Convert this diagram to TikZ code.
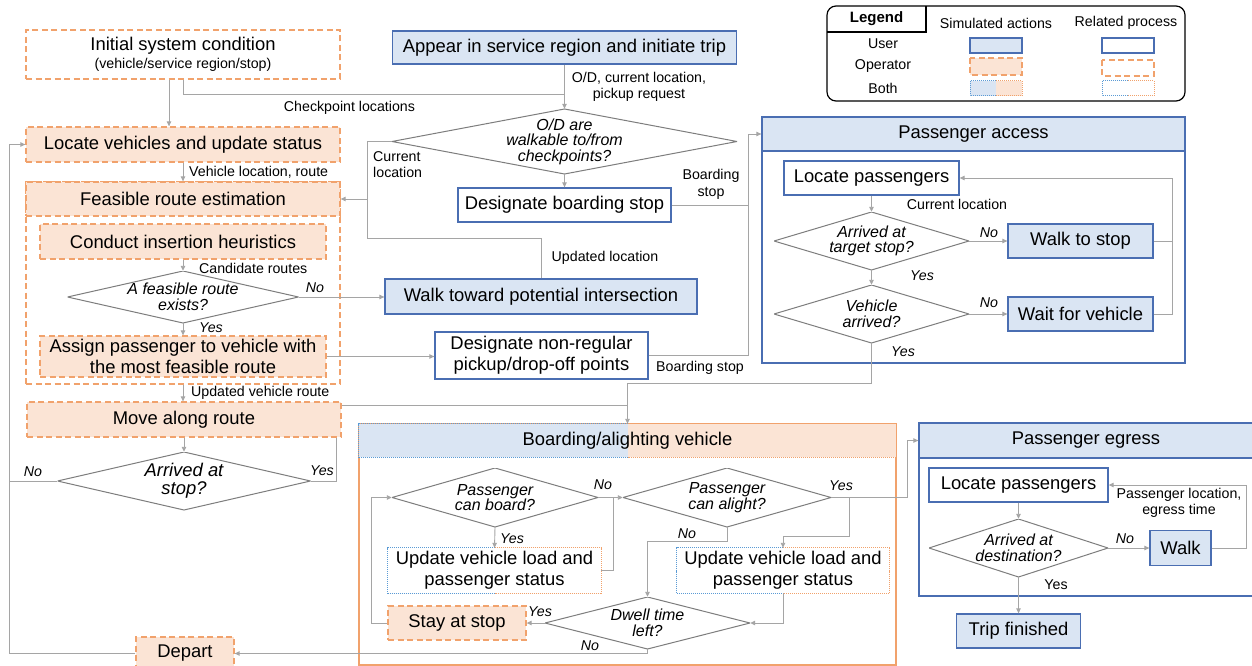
\documentclass[tikz,border=0pt]{standalone}
\usepackage{fontspec}
\setmainfont{Liberation Sans}
\usetikzlibrary{arrows.meta}

\definecolor{usrfill}{RGB}{218,229,243}
\definecolor{usrline}{RGB}{74,110,178}
\definecolor{opfill}{RGB}{251,228,213}
\definecolor{opline}{RGB}{241,162,108}
\definecolor{bothline}{RGB}{91,155,213}
\definecolor{conn}{RGB}{165,165,165}
\definecolor{decline}{RGB}{125,125,125}

\newcommand{\mainf}{\fontsize{18.4}{21}\selectfont}
\newcommand{\labf}{\fontsize{14.2}{16.5}\selectfont}
\newcommand{\decf}{\fontsize{16}{15.5}\selectfont\itshape}
\newcommand{\decbig}{\fontsize{18.4}{18}\selectfont\itshape}

\tikzset{
  usr/.style={draw=usrline, fill=usrfill, line width=1.3pt, inner sep=0pt, align=center, font=\mainf},
  usrrel/.style={usr, fill=white},
  oper/.style={draw=opline, fill=opfill, dash pattern=on 6pt off 3.5pt, line width=1.3pt, inner sep=0pt, align=center, font=\mainf},
  operrel/.style={oper, fill=white},
  dec/.style={fill=white, inner sep=0pt, align=center, font=\decf,
    path picture={\draw[decline, line width=1pt] (path picture bounding box.west) -- (path picture bounding box.north)
      -- (path picture bounding box.east) -- (path picture bounding box.south) -- cycle;}},
  bothfill/.style={fill=white, inner sep=0pt, align=center, font=\mainf,
    path picture={\fill[usrfill] (path picture bounding box.south west) rectangle (path picture bounding box.north);
      \fill[opfill] (path picture bounding box.south) rectangle (path picture bounding box.north east);}},
  bothrel/.style={fill=white, inner sep=0pt, align=center, font=\mainf},
  bdot/.style={draw=bothline, line width=1pt, dash pattern=on 1pt off 1pt},
  odot/.style={draw=opline, line width=1pt, dash pattern=on 1pt off 1pt},
  lab/.style={inner sep=0pt, font=\labf, align=center},
  yn/.style={inner sep=0pt, font=\labf\itshape},
  arr/.style={draw=conn, line width=0.9pt, -{Triangle[length=5pt,width=4.5pt]}},
  ln/.style={draw=conn, line width=0.9pt},
}

% dotted frame, user half left and operator half right
\newcommand{\splitframe}[1]{%
  \draw[bdot] (#1.north) -| (#1.west) |- (#1.south);
  \draw[odot] (#1.north) -| (#1.east) |- (#1.south);}

\begin{document}
\begin{tikzpicture}[x=1pt,y=-1pt]
\useasboundingbox (0,0) rectangle (1252,666);
%legend
\draw[line width=1.2pt, rounded corners=9pt] (827,6) rectangle (1185,101);
\draw[line width=1.2pt] (827,32) -| (926,6);
\node[inner sep=0pt, font=\fontsize{15}{18}\selectfont\bfseries] (lgd) at (876.5,19) {Legend};
\node[lab] (lsim) at (996,23) {Simulated actions};
\node[lab] (lrel) at (1126,23) {Related process};
\node[lab] (luser) at (883,44) {User};
\node[lab] (loper) at (883,66) {Operator};
\node[lab] (lboth) at (883,88) {Both};
\draw[usr] (970,38) rectangle (1022,53);
\draw[oper] (970,58) rectangle (1022,75);
\fill[usrfill] (970,81) rectangle (996,96);
\fill[opfill] (996,81) rectangle (1022,96);
\draw[bdot] (996,81) -| (970,96) -- (996,96);
\draw[odot] (996,81) -| (1022,96) -- (996,96);
\draw[usrrel] (1102,38) rectangle (1154,53);
\draw[operrel] (1102,60) rectangle (1154,76);
\draw[bdot] (1128,81) -| (1102,96) -- (1128,96);
\draw[odot] (1128,81) -| (1154,96) -- (1128,96);

%operator
\node[operrel, minimum width=314, minimum height=49] (init) at (183,54.5) {Initial system condition\\[-3pt]{\labf (vehicle/service region/stop)}};
\node[oper, minimum width=314, minimum height=35] (locv) at (183,144.5) {Locate vehicles and update status};
\node[operrel, minimum width=314, minimum height=202] (frb) at (183,283) {};
\node[oper, minimum width=314, minimum height=34] (fre) at (183,199) {Feasible route estimation};
\node[oper, minimum width=286, minimum height=35] (cih) at (183,241.5) {Conduct insertion heuristics};
\node[dec, minimum width=231, minimum height=52] (frx) at (183,297) {A feasible route\\exists?};
\node[oper, minimum width=286, minimum height=41] (asg) at (183,356.5) {Assign passenger to vehicle with\\the most feasible route};
\node[oper, minimum width=314, minimum height=35] (move) at (184,419.5) {Move along route};
\node[dec, minimum width=253, minimum height=58, font=\decbig] (arrs) at (184,481) {Arrived at\\stop?};
\node[oper, minimum width=98, minimum height=33] (dep) at (185,653.5) {Depart};

%user
\node[usr, minimum width=344, minimum height=33] (app) at (564.5,47.5) {Appear in service region and initiate trip};
\node[dec, minimum width=345, minimum height=65] (odw) at (564.5,141.5) {O/D are\\walkable to/from\\checkpoints?};
\node[usrrel, minimum width=213, minimum height=34] (dbs) at (564.5,205) {Designate boarding stop};
\node[usr, minimum width=312, minimum height=35] (wtp) at (541,296.5) {Walk toward potential intersection};
\node[usrrel, minimum width=213, minimum height=47] (dnr) at (541.5,355.5) {Designate non-regular\\pickup/drop-off points};

%passenger access
\node[usrrel, minimum width=423, minimum height=246] (pab) at (973.5,240) {};
\node[usr, minimum width=423, minimum height=34] (pat) at (973.5,134) {Passenger access};
\node[usrrel, minimum width=175, minimum height=34] (lpa) at (871.5,178) {Locate passengers};
\node[dec, minimum width=195, minimum height=58] (ats) at (871.5,241) {Arrived at\\target stop?};
\node[usr, minimum width=145, minimum height=34] (wts) at (1080.5,241) {Walk to stop};
\node[dec, minimum width=195, minimum height=58] (vea) at (871.5,314) {Vehicle\\arrived?};
\node[usr, minimum width=145, minimum height=34] (wfv) at (1080.5,314) {Wait for vehicle};

%boarding/alighting
\node[draw=opline, line width=1.3pt, fill=white, minimum width=537, minimum height=241] (bab) at (627.5,544.5) {};
\node[bothfill, minimum width=537, minimum height=33] (bat) at (627.5,440.5) {Boarding/alighting vehicle};
\splitframe{bat}
\node[dec, minimum width=206, minimum height=59] (cbd) at (495,497.5) {Passenger\\can board?};
\node[bothrel, minimum width=213, minimum height=45] (upb) at (494.5,570.5) {Update vehicle load and\\passenger status};
\splitframe{upb}
\node[oper, minimum width=138, minimum height=34] (stay) at (457,623) {Stay at stop};
\node[dec, minimum width=208, minimum height=59] (cal) at (727,497.5) {Passenger\\can alight?};
\node[bothrel, minimum width=212, minimum height=45] (upa) at (783,570.5) {Update vehicle load and\\passenger status};
\splitframe{upa}
\node[dec, minimum width=205, minimum height=52] (dwl) at (647.5,623) {Dwell time\\left?};

%passenger egress
\node[usrrel, minimum width=334, minimum height=173] (peb) at (1086,509.5) {};
\node[usr, minimum width=334, minimum height=35] (pet) at (1086,440.5) {Passenger egress};
\node[usrrel, minimum width=179, minimum height=34] (lpe) at (1018.5,485) {Locate passengers};
\node[dec, minimum width=179, minimum height=58] (adst) at (1018.5,548) {Arrived at\\destination?};
\node[usr, minimum width=61, minimum height=35] (wlk) at (1180.5,548) {Walk};
\node[usr, minimum width=124, minimum height=34] (trip) at (1018.5,631) {Trip finished};

%connectors, operator
\coordinate (cp) at (564.5,94);
\coordinate (lt) at (9,144.5);
\coordinate (lp) at (9,481);
\coordinate (ys) at (336,481);
\coordinate (mj) at (627.5,405);
\draw[arr] ([xshift=-14pt]init.south) -- ([xshift=-14pt]locv.north);
\draw[ln] (init.south) |- (cp);
\draw[arr] (app.south) -- (odw.north);
\draw[arr] (locv.south) -- (fre.north);
\draw[arr] (cih.south) -- (frx.north);
\draw[arr] (frx.south) -- (asg.north);
\draw[arr] (frb.south) -- (frb.south |- move.north);
\draw[arr] (move.south) -- (arrs.north);
\draw[arr] (frx.east) -- (frx.east -| wtp.west);
\draw[arr] (asg.east) -- (asg.east -| dnr.west);
\draw[ln] (arrs.west) -- (lp);
\draw[arr] (dep.west) -| (lt) -- (locv.west);
\draw[ln] (arrs.east) -- (ys) -- (ys |- move.south);
\draw[arr] ([yshift=14.5pt]move.east) -- (mj) -- (bat.north);
%connectors, user
\coordinate (cl) at (367,199);
\coordinate (ul) at (367,238);
\coordinate (bt) at (748,134);
\coordinate (bj) at (748,205);
\draw[arr] (odw.south) -- (dbs.north);
\draw[ln] (odw.west) -| (ul) -| (wtp.north);
\draw[arr] (cl) -- (fre.east);
\draw[arr] (dbs.east) -| (bt) -- (pat.west);
\draw[ln] (dnr.east) -| (bj);
%connectors, passenger access
\coordinate (pr) at (1172,178);
\coordinate (yj) at (627.5,383);
\draw[arr] (lpa.south) -- (ats.north);
\draw[arr] (ats.east) -- (wts.west);
\draw[arr] (ats.south) -- (vea.north);
\draw[arr] (vea.east) -- (wfv.west);
\draw[ln] (wts.east) -- (wts.east -| pr);
\draw[arr] (wfv.east) -| (pr) -- (lpa.east);
\draw[ln] (vea.south) |- (yj) -- (mj);
%connectors, boarding/alighting
\coordinate (bn) at (613,497.5);
\coordinate (sl) at (371,497.5);
\coordinate (ay) at (907,497.5);
\coordinate (ab) at (849,497.5);
\coordinate (an) at (647.5,541);
\draw[arr] (cbd.south) -- (upb.north);
\draw[arr] (cbd.east) -- (cal.west);
\draw[ln] (upb.east) -| (bn);
\draw[arr] (stay.west) -| (sl) -- (cbd.west);
\draw[arr] (cal.east) -- (ay) |- (pet.west);
\draw[arr] (ab) |- ([yshift=11pt]upa.north) -- (upa.north);
\draw[arr] (cal.south) |- (an) -- (dwl.north);
\draw[arr] (upa.south) |- (dwl.east);
\draw[arr] (dwl.west) -- (stay.east);
\draw[arr] (dwl.south) |- (dep.east);
%connectors, egress
\coordinate (er) at (1246,485);
\draw[arr] (lpe.south) -- (adst.north);
\draw[arr] (adst.east) -- (wlk.west);
\draw[arr] (wlk.east) -| (er) -- (lpe.east);
\draw[arr] (adst.south) -- (trip.north);

%labels
\node[lab] (lchk) at (349.5,108) {Checkpoint locations};
\node[lab] (lod) at (639,87) {O/D, current location,\\pickup request};
\node[lab, anchor=west] (lvl) at (189,172) {Vehicle location, route};
\node[lab, anchor=west] (lcand) at (199,268) {Candidate routes};
\node[lab, anchor=west] (luvr) at (191,393) {Updated vehicle route};
\node[lab, align=left, anchor=west] (lcur) at (373,164.5) {Current\\location};
\node[lab] (lupd) at (605,258) {Updated location};
\node[lab] (lbs1) at (711,184.5) {Boarding\\stop};
\node[lab] (lbs2) at (700,368) {Boarding stop};
\node[lab] (lcur2) at (957,204) {Current location};
\node[lab] (lpl) at (1179,503) {Passenger location,\\egress time};
\node[yn] (n1) at (315,288) {No};
\node[yn] (y1) at (211,328) {Yes};
\node[yn] (n2) at (33,472) {No};
\node[yn] (y2) at (322,471) {Yes};
\node[yn] (n3) at (989,233) {No};
\node[yn] (y3) at (922,276) {Yes};
\node[yn] (n4) at (989,303) {No};
\node[yn] (y4) at (903,352) {Yes};
\node[yn] (n5) at (603,485) {No};
\node[yn] (y5) at (512,539) {Yes};
\node[yn] (y6) at (841,486) {Yes};
\node[yn] (n6) at (687,534) {No};
\node[yn] (y7) at (540,612) {Yes};
\node[yn] (n7) at (590,646) {No};
\node[yn] (n8) at (1125,539) {No};
\node[lab] (y8) at (1056,585) {Yes};
\end{tikzpicture}
\end{document}
